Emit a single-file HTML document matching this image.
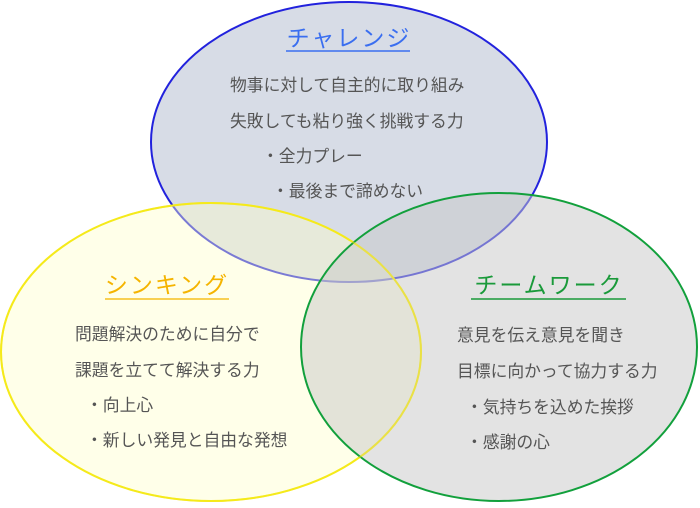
<!DOCTYPE html>
<html><head><meta charset="utf-8"><style>
body{margin:0;width:700px;height:503px;overflow:hidden;background:#fff}
svg text{font-family:"Liberation Sans","Noto Sans CJK JP",sans-serif}
</style></head><body>
<svg width="700" height="503" xmlns="http://www.w3.org/2000/svg">
<ellipse cx="349" cy="142" rx="198" ry="140" fill="#d7dce6" stroke="#2222dd" stroke-width="2"/>
<ellipse cx="211" cy="352" rx="210" ry="149" fill="rgb(255,255,200)" fill-opacity="0.4" stroke="#f5ea1a" stroke-width="2"/>
<ellipse cx="499" cy="347" rx="198" ry="154" fill="rgb(199,199,199)" fill-opacity="0.5" stroke="#12a03c" stroke-width="2"/>
<ellipse cx="211" cy="352" rx="210" ry="149" fill="none" stroke="#f5ea1a" stroke-opacity="0.5" stroke-width="2"/>
<g font-size="16.8" fill="#555">
<text x="349" y="46" font-size="23" fill="#3a6ef0" text-anchor="middle" letter-spacing="2">チャレンジ</text>
<line x1="286" y1="51" x2="410" y2="51" stroke="#3a6ef0" stroke-width="1.5"/>
<text x="230" y="91">物事に対して自主的に取り組み</text>
<text x="230" y="127">失敗しても粘り強く挑戦する力</text>
<text x="262" y="162">・全力プレー</text>
<text x="272" y="197">・最後まで諦めない</text>
<text x="167" y="293" font-size="23" fill="#f5b400" text-anchor="middle" letter-spacing="2">シンキング</text>
<line x1="105" y1="299" x2="229" y2="299" stroke="#f5c020" stroke-width="1.5"/>
<text x="75" y="340">問題解決のために自分で</text>
<text x="75" y="376">課題を立てて解決する力</text>
<text x="86" y="411">・向上心</text>
<text x="86" y="446">・新しい発見と自由な発想</text>
<text x="549" y="293" font-size="23" fill="#1a9a3a" text-anchor="middle" letter-spacing="2">チームワーク</text>
<line x1="471" y1="299" x2="626" y2="299" stroke="#1a9a3a" stroke-width="1.5"/>
<text x="457" y="341">意見を伝え意見を聞き</text>
<text x="457" y="377">目標に向かって協力する力</text>
<text x="466" y="413">・気持ちを込めた挨拶</text>
<text x="466" y="448">・感謝の心</text>
</g>
</svg>
</body></html>
